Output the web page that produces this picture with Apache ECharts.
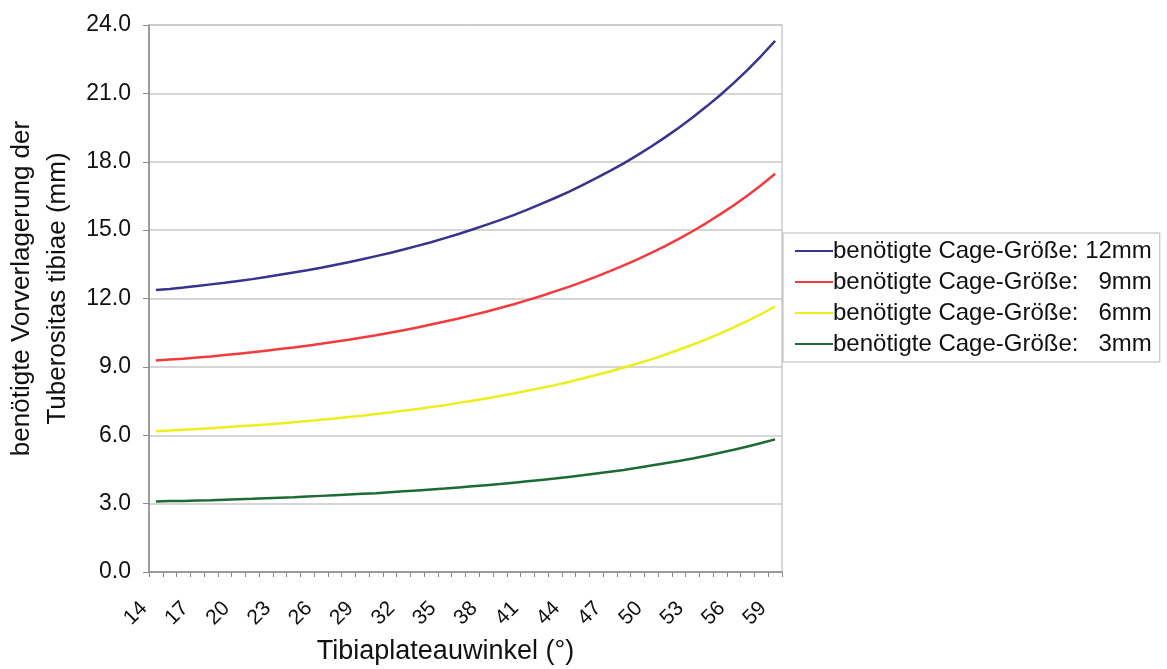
<!DOCTYPE html>
<html>
<head>
<meta charset="utf-8">
<script src="https://cdn.jsdelivr.net/npm/echarts@6/dist/echarts.min.js"></script>
<style>
  html, body { margin: 0; padding: 0; background: #fff; }
  #chart { width: 1167px; height: 669px; }
</style>
</head>
<body>
<div id="chart"></div>
<script>
// Tibiaplateauwinkel (°)
const angles = [14, 15, 16, 17, 18, 19, 20, 21, 22, 23, 24, 25, 26, 27, 28, 29, 30, 31, 32, 33, 34, 35, 36,
  37, 38, 39, 40, 41, 42, 43, 44, 45, 46, 47, 48, 49, 50, 51, 52, 53, 54, 55, 56, 57, 58, 59];

const cage12 = [12.37, 12.42, 12.48, 12.55, 12.62, 12.69, 12.77, 12.85, 12.94, 13.04, 13.14, 13.24, 13.35,
  13.47, 13.59, 13.72, 13.86, 14.00, 14.15, 14.31, 14.47, 14.65, 14.83, 15.03, 15.23, 15.44, 15.66, 15.90,
  16.15, 16.41, 16.68, 16.97, 17.28, 17.60, 17.93, 18.29, 18.67, 19.07, 19.49, 19.94, 20.42, 20.92, 21.46,
  22.03, 22.65, 23.30];
const cage9 = [9.28, 9.32, 9.36, 9.41, 9.46, 9.52, 9.58, 9.64, 9.71, 9.78, 9.85, 9.93, 10.01, 10.10, 10.19,
  10.29, 10.39, 10.50, 10.61, 10.73, 10.86, 10.99, 11.12, 11.27, 11.42, 11.58, 11.75, 11.93, 12.11, 12.31,
  12.51, 12.73, 12.96, 13.20, 13.45, 13.72, 14.00, 14.30, 14.62, 14.95, 15.31, 15.69, 16.09, 16.52, 16.98,
  17.47];
const cage6 = [6.18, 6.21, 6.24, 6.27, 6.31, 6.35, 6.39, 6.43, 6.47, 6.52, 6.57, 6.62, 6.68, 6.73, 6.80, 6.86,
  6.93, 7.00, 7.08, 7.15, 7.24, 7.32, 7.42, 7.51, 7.61, 7.72, 7.83, 7.95, 8.07, 8.20, 8.34, 8.49, 8.64, 8.80,
  8.97, 9.15, 9.33, 9.53, 9.75, 9.97, 10.21, 10.46, 10.73, 11.02, 11.32, 11.65];
const cage3 = [3.09, 3.11, 3.12, 3.14, 3.15, 3.17, 3.19, 3.21, 3.24, 3.26, 3.28, 3.31, 3.34, 3.37, 3.40, 3.43,
  3.46, 3.50, 3.54, 3.58, 3.62, 3.66, 3.71, 3.76, 3.81, 3.86, 3.92, 3.98, 4.04, 4.10, 4.17, 4.24, 4.32, 4.40,
  4.48, 4.57, 4.67, 4.77, 4.87, 4.98, 5.10, 5.23, 5.36, 5.51, 5.66, 5.82];

const seriesNames = [
  'benötigte Cage-Größe: 12mm',
  'benötigte Cage-Größe:   9mm',
  'benötigte Cage-Größe:   6mm',
  'benötigte Cage-Größe:   3mm'
];
const seriesData = [cage12, cage9, cage6, cage3];
const colors = ['#37338f', '#f43a3c', '#eeee1c', '#1d6b33'];

const chart = echarts.init(document.getElementById('chart'));
const font = '"Liberation Sans", Arial, sans-serif';

chart.setOption({
  animation: false,
  color: colors,
  textStyle: { fontFamily: font },
  grid: {
    left: 149, right: 385, top: 25, bottom: 97,
    outerBoundsMode: 'none',
    containLabel: false,
    show: true, borderColor: '#b0b0b0', borderWidth: 1
  },
  legend: {
    orient: 'vertical',
    left: 783,
    top: 233,
    data: seriesNames,
    icon: 'rect',
    itemWidth: 38,
    itemHeight: 2,
    itemGap: 7,
    padding: [6, 8, 6, 12],
    borderColor: '#b8b8b8',
    borderWidth: 1,
    textStyle: { fontSize: 24, color: '#111', fontFamily: font, padding: [0, 0, 0, -5] }
  },
  xAxis: {
    type: 'category',
    data: angles,
    boundaryGap: true,
    name: 'Tibiaplateauwinkel (°)',
    nameLocation: 'middle',
    nameGap: 66,
    nameTextStyle: { fontSize: 27, color: '#111', padding: [0, 40, 0, 0] },
    axisLine: { lineStyle: { color: '#8a8a8a', width: 1.5 } },
    axisTick: { show: true, interval: 0, length: 5, lineStyle: { color: '#8a8a8a' } },
    axisLabel: { interval: 2, rotate: 45, fontSize: 21, color: '#111', margin: 21, padding: [0, 17, 0, 0] },
    splitLine: { show: false }
  },
  yAxis: {
    type: 'value',
    min: 0, max: 24, interval: 3,
    name: 'benötigte Vorverlagerung der\nTuberositas tibiae (mm)',
    nameLocation: 'middle',
    nameGap: 70,
    nameRotate: 90,
    nameTextStyle: { fontSize: 26, color: '#111', lineHeight: 36, padding: [0, 0, 0, 20] },
    axisLine: { show: true, lineStyle: { color: '#8a8a8a', width: 1.5 } },
    axisTick: { show: true, length: 6, lineStyle: { color: '#8a8a8a' } },
    axisLabel: {
      fontSize: 23, color: '#111', margin: 18,
      formatter: v => v.toFixed(1)
    },
    splitLine: { lineStyle: { color: '#c8c8c8', width: 1.5 } }
  },
  series: seriesNames.map((name, i) => ({
    name: name,
    type: 'line',
    data: seriesData[i],
    showSymbol: false,
    smooth: false,
    lineStyle: { width: 2.5, color: colors[i] }
  }))
});
</script>
</body>
</html>
